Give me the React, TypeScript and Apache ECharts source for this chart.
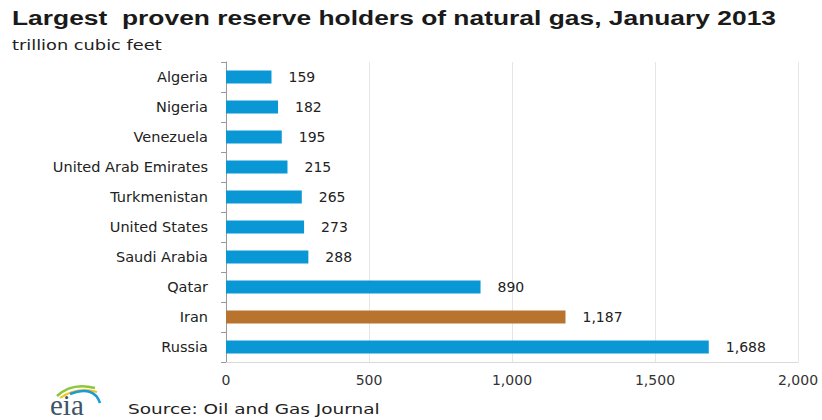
import React, { useEffect, useRef } from "react";
import * as echarts from "echarts";

const categories = [
  "Algeria",
  "Nigeria",
  "Venezuela",
  "United Arab Emirates",
  "Turkmenistan",
  "United States",
  "Saudi Arabia",
  "Qatar",
  "Iran",
  "Russia",
];
const values = [159, 182, 195, 215, 265, 273, 288, 890, 1187, 1688];
const highlight = "Iran";
const xTicks = [0, 500, 1000, 1500, 2000];

const titleText = "Largest  proven reserve holders of natural gas, January 2013";
const subtitleText = "trillion cubic feet";
const sourceText = "Source: Oil and Gas Journal";

const BLUE = "#0a97d6";
const ORANGE = "#b8732e";

export default function App() {
  const ref = useRef<HTMLDivElement>(null);
  useEffect(() => {
    if (!ref.current) return;
    const chart = echarts.init(ref.current, undefined, { renderer: "svg" });
    const font = "'DejaVu Sans', Verdana, sans-serif";
    chart.setOption({
      animation: false,
      backgroundColor: "#ffffff",
      textStyle: { fontFamily: font },
      grid: { left: 226, right: 24, top: 62, bottom: 58, containLabel: false },
      xAxis: {
        type: "value",
        min: 0,
        max: 2000,
        interval: 500,
        axisLine: { show: true, lineStyle: { color: "#d9d9d9" } },
        axisTick: { show: false },
        splitLine: { show: true, lineStyle: { color: "#e6e6e6" } },
        axisLabel: {
          fontSize: 14,
          color: "#333",
          margin: 11,
          fontFamily: font,
          formatter: (v: number) =>
            xTicks.includes(v) ? v.toLocaleString("en-US") : "",
        },
      },
      yAxis: {
        type: "category",
        data: categories,
        inverse: true,
        axisLine: { show: true, lineStyle: { color: "#999" } },
        axisTick: { show: true, length: 5, lineStyle: { color: "#999" } },
        axisLabel: { fontSize: 14.5, color: "#222", margin: 18, fontFamily: font },
      },
      series: [
        {
          type: "bar",
          barWidth: 13,
          data: values.map((v, i) => ({
            value: v,
            itemStyle: { color: categories[i] === highlight ? ORANGE : BLUE },
          })),
          label: {
            show: true,
            position: "right",
            distance: 17,
            fontSize: 14,
            color: "#222",
            fontFamily: font,
            formatter: (p: any) => Number(p.value).toLocaleString("en-US"),
          },
        },
      ],
      graphic: [
        {
          type: "text",
          x: 12,
          y: 8,
          scaleX: 1.32,
          style: {
            text: titleText,
            font: "bold 20px 'Liberation Sans', Arial, sans-serif",
            fill: "#1a1a1a",
          },
        },
        {
          type: "text",
          x: 12,
          y: 38,
          scaleX: 1.27,
          style: {
            text: subtitleText,
            font: "normal 14px 'DejaVu Sans', Verdana, sans-serif",
            fill: "#222",
          },
        },
        {
          type: "bezierCurve",
          shape: { x1: 57, y1: 396, x2: 95, y2: 388, cpx1: 72, cpy1: 382 },
          style: { stroke: "#8cc63f", lineWidth: 2.5, fill: "none" },
        },
        {
          type: "bezierCurve",
          shape: { x1: 60, y1: 398, x2: 97, y2: 392, cpx1: 78, cpy1: 386 },
          style: { stroke: "#f2c318", lineWidth: 2, fill: "none" },
        },
        {
          type: "bezierCurve",
          shape: { x1: 70, y1: 394, x2: 100, y2: 403, cpx1: 94, cpy1: 385 },
          style: { stroke: "#1a9ad6", lineWidth: 2.5, fill: "none" },
        },
        {
          type: "text",
          x: 50,
          y: 390,
          style: {
            text: "eia",
            font: "normal 29px 'Liberation Serif', serif",
            fill: "#3d5566",
          },
        },
        {
          type: "text",
          x: 128,
          y: 402,
          scaleX: 1.32,
          style: {
            text: sourceText,
            font: "normal 14px 'DejaVu Sans', Verdana, sans-serif",
            fill: "#222",
          },
        },
      ],
    });
    return () => chart.dispose();
  }, []);
  return (
    <div
      ref={ref}
      style={{ position: "fixed", left: 0, top: 0, width: 822, height: 420 }}
    />
  );
}
